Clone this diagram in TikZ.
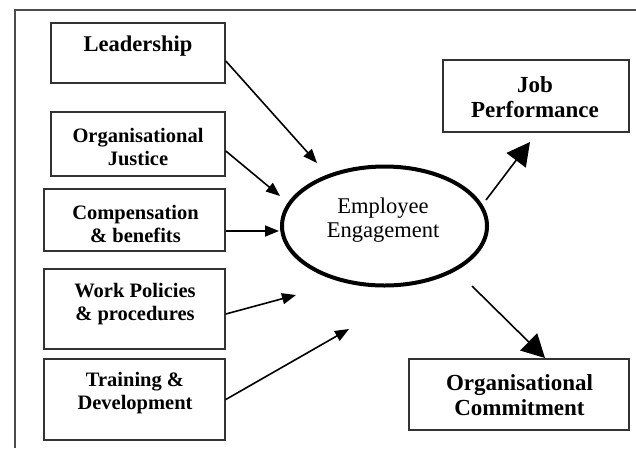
\documentclass[tikz,border=0pt]{standalone}
\usepackage{fontspec}
\setmainfont{Liberation Serif}
\usetikzlibrary{shapes.geometric,arrows.meta}
\begin{document}
\begin{tikzpicture}[x=1pt,y=-1pt,
  box/.style={draw=black!80,line width=1.6pt,inner sep=0pt,rectangle},
  lbl/.style={inner sep=0pt,align=center,font=\bfseries\fontsize{20.5}{23}\selectfont},
  biglbl/.style={inner sep=0pt,align=center,font=\bfseries\fontsize{23}{25}\selectfont},
  small/.style={-{Triangle[length=14pt,width=11pt]},line width=1.6pt},
  large/.style={-{Triangle[length=23pt,width=24pt]},line width=1.6pt}]
\useasboundingbox (0,0) rectangle (636,448);
\draw[black!70,line width=2.4pt] (15,448) -- (15,10) -- (636,10);
% left boxes
\node[box,minimum width=174pt,minimum height=60pt] (lead) at (138,53) {};
\node[box,minimum width=174pt,minimum height=64pt] (just) at (138,144) {};
\node[box,minimum width=181pt,minimum height=62pt] (comp) at (134.5,220) {};
\node[box,minimum width=181pt,minimum height=80pt] (work) at (134.5,309) {};
\node[box,minimum width=181pt,minimum height=81pt] (train) at (134.5,399.5) {};
% right boxes
\node[box,minimum width=186pt,minimum height=72pt] (jp) at (536,96) {};
\node[box,minimum width=220pt,minimum height=71pt] (oc) at (519,394.5) {};
% labels
\node[lbl,font=\bfseries\fontsize{22.5}{25}\selectfont] (leadt) at (138,46) {Leadership};
\node[lbl] (justt) at (138,147) {Organisational\\Justice};
\node[lbl] (compt) at (135.5,224) {Compensation\\\& benefits};
\node[lbl] (workt) at (135,304) {Work Policies\\\& procedures};
\node[lbl] (traint) at (135,393) {Training \&\\Development};
\node[biglbl] (jpt) at (535,97) {Job\\Performance};
\node[biglbl] (oct) at (519.5,395) {Organisational\\Commitment};
% ellipse
\node[ellipse,draw,line width=4pt,minimum width=205pt,minimum height=119pt,inner sep=0pt] (ee) at (384.5,226) {};
\node[inner sep=0pt,align=center,font=\fontsize{22.5}{24}\selectfont] (eet) at (383,220) {Employee\\Engagement};
% arrow ends
\coordinate (a1) at (317,163);
\coordinate (a2) at (280,196);
\coordinate (a3) at (279,231);
\coordinate (a4) at (296,295);
\coordinate (a5) at (349,329);
\coordinate (b1) at (486,200);
\coordinate (b2) at (530,142);
\coordinate (c1) at (472,286);
\coordinate (c2) at (545,358);
\draw[small] ([yshift=-8pt]lead.east) -- (a1);
\draw[small] ([yshift=-7pt]just.east) -- (a2);
\draw[small] ([yshift=-11pt]comp.east) -- (a3);
\draw[small] ([yshift=-5pt]work.east) -- (a4);
\draw[small] (train.east) -- (a5);
\draw[large] (b1) -- (b2);
\draw[large] (c1) -- (c2);
\end{tikzpicture}
\end{document}
